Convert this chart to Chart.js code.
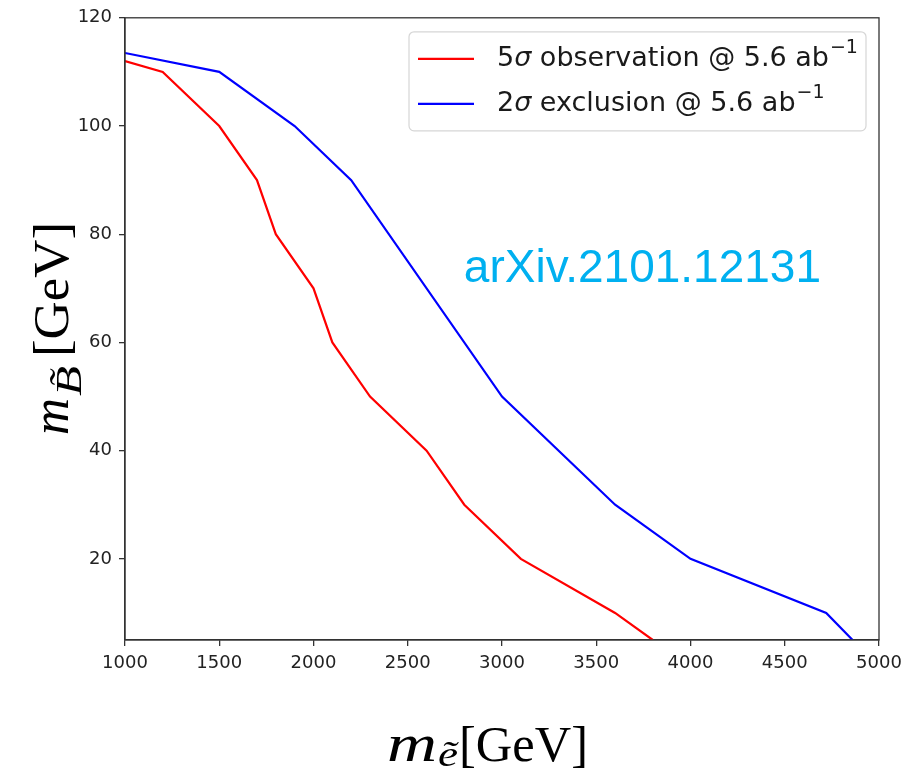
<!DOCTYPE html>
<html>
<head>
<meta charset="utf-8">
<script src="https://cdn.jsdelivr.net/npm/chart.js@4.4.1/dist/chart.umd.min.js"></script>
<style>
  html, body { margin: 0; padding: 0; background: #fff; }
  #wrap { position: relative; width: 914px; height: 774px; }
</style>
</head>
<body>
<div id="wrap"><canvas id="chart"></canvas></div>
<script>
  // data
  const obsX = [1000, 1200, 1500, 1700, 1800, 2000, 2100, 2300, 2600, 2800, 3100, 3600, 3800];
  const obsY = [112, 110, 100, 90, 80, 70, 60, 50, 40, 30, 20, 10, 5];
  const excX = [1000, 1500, 1900, 2200, 3000, 3600, 4000, 4720, 4860];
  const excY = [113.5, 110, 100, 90, 50, 30, 20, 10, 5];

  const xTicks = [1000, 1500, 2000, 2500, 3000, 3500, 4000, 4500, 5000];
  const yTicks = [20, 40, 60, 80, 100, 120];

  const seriesNames = ["5σ observation @ 5.6 ab", "2σ exclusion @ 5.6 ab"];
  const noteText = "arXiv.2101.12131";
  const notePos = [3745, 71.1];

  const AXIS = "#333333";
  const TICK_FONT = { family: "DejaVu Sans", size: 18 };
  const serif = "'Liberation Serif'";

  function toPoints(xs, ys) {
    return xs.map((x, i) => ({ x: x, y: ys[i] }));
  }

  // each piece is squeezed/stretched to a target width so the LaTeX-ish look holds
  function drawPieces(ctx, pieces) {
    pieces.forEach(p => {
      ctx.font = p.font;
      const w = ctx.measureText(p.text).width;
      ctx.save();
      ctx.translate(p.at, p.dy || 0);
      ctx.scale(p.w / w, 1);
      ctx.fillText(p.text, 0, 0);
      ctx.restore();
    });
  }

  const xTitle = [
    { text: "m", font: "italic 52px " + serif, at: 0, w: 50 },
    { text: "ẽ", font: "italic 36px " + serif, at: 51, w: 20, dy: 5 },
    { text: "[GeV]", font: "50px " + serif, at: 72, w: 129 }
  ];
  const yTitle = [
    { text: "m", font: "italic 52px " + serif, at: 0, w: 37 },
    { text: "B\u0303", font: "italic 36px " + serif, at: 39, w: 30, dy: 13 },
    { text: "[GeV]", font: "50px " + serif, at: 78, w: 135 }
  ];

  const extras = {
    id: "extras",
    afterDatasetsDraw(chart) {
      const ctx = chart.ctx;
      const a = chart.chartArea;
      const xs = chart.scales.x, ys = chart.scales.y;

      // full frame like matplotlib spines
      ctx.save();
      ctx.strokeStyle = AXIS;
      ctx.lineWidth = 1.3;
      ctx.strokeRect(a.left, a.top, a.right - a.left, a.bottom - a.top);
      ctx.restore();

      // watermark text
      ctx.save();
      ctx.fillStyle = "#00B0F0";
      ctx.font = "46px 'Liberation Sans'";
      ctx.textAlign = "center";
      ctx.textBaseline = "alphabetic";
      ctx.fillText(noteText, xs.getPixelForValue(notePos[0]), ys.getPixelForValue(notePos[1]));
      ctx.restore();

      // legend box
      const bw = 457, bh = 99;
      const bx = a.right - 13 - bw, by = a.top + 14;
      ctx.save();
      ctx.beginPath();
      ctx.roundRect(bx, by, bw, bh, 5);
      ctx.fillStyle = "rgba(255,255,255,0.85)";
      ctx.fill();
      ctx.strokeStyle = "#d6d6d6";
      ctx.lineWidth = 1.2;
      ctx.stroke();

      chart.data.datasets.forEach((ds, i) => {
        const ly = by + 27 + i * 45;
        ctx.beginPath();
        ctx.strokeStyle = ds.borderColor;
        ctx.lineWidth = 2.2;
        ctx.moveTo(bx + 9, ly);
        ctx.lineTo(bx + 65, ly);
        ctx.stroke();

        const label = seriesNames[i];
        ctx.fillStyle = "#1a1a1a";
        ctx.textBaseline = "middle";
        let tx = bx + 88;
        const base = "27px 'DejaVu Sans'";
        ctx.font = base;
        ctx.fillText(label[0], tx, ly);
        tx += ctx.measureText(label[0]).width;
        ctx.font = "italic 27px 'DejaVu Sans'";
        ctx.fillText(label[1], tx, ly);
        tx += ctx.measureText(label[1]).width;
        ctx.font = base;
        const rest = label.slice(2);
        ctx.fillText(rest, tx, ly);
        tx += ctx.measureText(rest).width + 1;
        ctx.font = "19px 'DejaVu Sans'";
        ctx.fillText("−1", tx, ly - 11);
      });
      ctx.restore();

      // axis titles
      ctx.save();
      ctx.fillStyle = "#000";
      ctx.textBaseline = "alphabetic";
      ctx.translate(387, 761);
      drawPieces(ctx, xTitle);
      ctx.restore();

      ctx.save();
      ctx.fillStyle = "#000";
      ctx.textBaseline = "alphabetic";
      ctx.translate(68, 435);
      ctx.rotate(-Math.PI / 2);
      drawPieces(ctx, yTitle);
      ctx.restore();
    }
  };

  function axisOpts(min, max, tickList, size, isX) {
    return {
      type: "linear",
      min: min,
      max: max,
      afterBuildTicks: s => { s.ticks = tickList.map(v => ({ value: v })); },
      afterFit: s => { if (isX) s.height = size; else s.width = size; },
      ticks: {
        font: TICK_FONT,
        color: "#222",
        padding: 7,
        maxRotation: 0,
        autoSkip: false,
        callback: v => String(v)
      },
      grid: { drawOnChartArea: false, drawTicks: true, tickLength: 6, color: AXIS, lineWidth: 1.3 },
      border: { color: AXIS, width: 1.3 }
    };
  }

  new Chart(document.getElementById("chart"), {
    type: "line",
    data: {
      datasets: [
        {
          label: seriesNames[0],
          data: toPoints(obsX, obsY),
          borderColor: "#ff0000",
          borderWidth: 2.2,
          pointRadius: 0,
          tension: 0
        },
        {
          label: seriesNames[1],
          data: toPoints(excX, excY),
          borderColor: "#0000ff",
          borderWidth: 2.2,
          pointRadius: 0,
          tension: 0
        }
      ]
    },
    options: {
      responsive: true,
      maintainAspectRatio: false,
      animation: false,
      layout: { padding: { top: 16, right: 35, left: 0, bottom: 0 } },
      scales: {
        x: axisOpts(1000, 5000, xTicks, 134, true),
        y: axisOpts(5, 120, yTicks, 125, false)
      },
      plugins: {
        legend: { display: false },
        tooltip: { enabled: false }
      }
    },
    plugins: [extras]
  });
</script>
</body>
</html>
